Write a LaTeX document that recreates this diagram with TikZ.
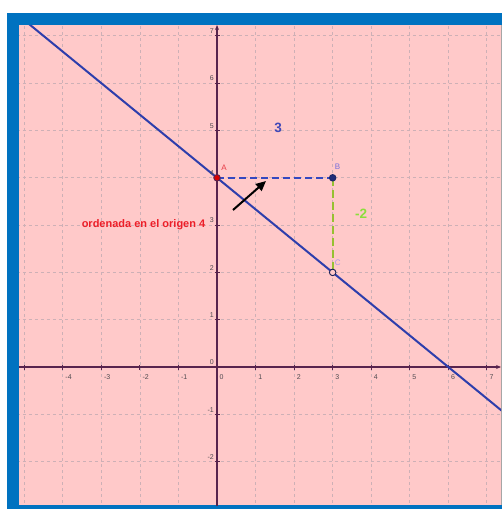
\documentclass[tikz,border=0pt]{standalone}
\usepackage{fontspec}
\setmainfont{Liberation Sans}
\usetikzlibrary{arrows.meta}
\definecolor{framecol}{RGB}{0,114,192}
\definecolor{pinkbg}{RGB}{255,201,201}
\definecolor{gridcol}{RGB}{205,176,182}
\definecolor{axiscol}{RGB}{88,36,78}
\definecolor{linecol}{RGB}{46,62,172}
\definecolor{abcol}{RGB}{52,72,192}
\definecolor{bccol}{RGB}{150,192,50}
\definecolor{mgreen}{RGB}{140,222,60}
\definecolor{mblue}{RGB}{64,72,184}
\definecolor{labB}{RGB}{120,110,220}
\definecolor{labC}{RGB}{170,150,232}
\definecolor{labA}{RGB}{230,60,70}
\definecolor{ticklab}{RGB}{80,75,80}
\definecolor{redtxt}{RGB}{236,30,40}
\tikzset{
  gridline/.style={gridcol, line width=0.8bp, dash pattern=on 3bp off 3bp},
  axisline/.style={axiscol, line width=1.6bp},
  tickmark/.style={axiscol, line width=0.9bp},
  ticklabel/.style={ticklab, font=\fontsize{7bp}{8bp}\selectfont, inner sep=0pt},
  pt/.style={circle, inner sep=0pt, minimum size=6.5bp, line width=0.9bp},
  ptlabel/.style={font=\fontsize{8bp}{9bp}\selectfont, inner sep=0pt},
  biglabel/.style={font=\fontsize{13.5bp}{14bp}\selectfont\bfseries, inner sep=0pt},
}
\begin{document}
\begin{tikzpicture}[x=1bp,y=-1bp]
\useasboundingbox (0,0) rectangle (502,509);
\fill[white] (0,0) rectangle (502,509);
\fill[framecol] (7,13) rectangle (502,509);
\fill[pinkbg] (19,25) rectangle (501,505);
\draw[gray!70, line width=0.6bp] (501,25) -- (501,505);
\begin{scope}[shift={(217,367)}, x=38.55bp, y=47.3bp]
  \begin{scope}
    \clip (-5.136,-2.918) rectangle (7.367,7.23);
    % grid
    \foreach \k in {-5,...,7} \draw[gridline] (\k,-3) -- (\k,7.5);
    \foreach \k in {-2,...,7} \draw[gridline] (-5.5,\k) -- (7.5,\k);
    % axes
    \coordinate (xs) at (-5.2,0);
    \coordinate (xe) at (7.367,0);
    \coordinate (ys) at (0,-3);
    \coordinate (ye) at (0,7.23);
    \draw[axisline, -{Stealth[length=5bp,width=4bp]}] (xs) -- (xe);
    \draw[axisline, -{Stealth[length=5bp,width=4bp]}] (ys) -- (ye);
    \foreach \k in {-5,...,7} \draw[tickmark] (\k,0) ++(0,-2.5bp) -- ++(0,5bp);
    \foreach \k in {-2,...,7} \draw[tickmark] (0,\k) ++(-2.5bp,0) -- ++(5bp,0);
    % line y = -2/3 x + 4
    \coordinate (L1) at (-4.9,7.2667);
    \coordinate (L2) at (7.5,-1);
    \draw[linecol, line width=2bp] (L1) -- (L2);
  \end{scope}
  % tick labels
  \foreach \k in {-4,-3,-2,-1,0,1,2,3,4,5,6,7}
    \node[ticklabel, anchor=north west] (xl\k) at ([xshift=2.5bp,yshift=-7bp]\k,0) {\k};
  \foreach \k in {-2,-1,0,1,2,3,4,5,6,7}
    \node[ticklabel, anchor=south east] (yl\k) at ([xshift=-3bp,yshift=2bp]0,\k) {\k};
  % points
  \node[pt] (A) at (0,4) {};
  \node[pt] (B) at (3,4) {};
  \node[pt] (C) at (3,2) {};
  \draw[abcol, line width=1.9bp, dash pattern=on 7bp off 4bp] (A.center) -- (B.center);
  \draw[bccol, line width=2bp, dash pattern=on 8bp off 4bp] (B.center) -- (C.center);
  \node[pt, fill=red!85!black, draw=axiscol] at (A) {};
  \node[pt, fill=linecol!70!black, draw=linecol!60!black] at (B) {};
  \node[pt, fill=pinkbg, draw=linecol!50!black] at (C) {};
  \node[ptlabel, labA] (Alab) at ([xshift=7bp,yshift=10bp]A) {A};
  \node[ptlabel, labB] (Blab) at ([xshift=5bp,yshift=11bp]B) {B};
  \node[ptlabel, labC] (Clab) at ([xshift=5bp,yshift=10bp]C) {C};
\end{scope}
% labels in picture coordinates
\node[biglabel, mblue] (three) at (278,128) {3};
\node[biglabel, mgreen] (minustwo) at (361,214) {-2};
\node[redtxt, font=\fontsize{11bp}{12bp}\selectfont\bfseries, inner sep=0pt] (ord) at (143.5,225) {ordenada en el origen 4};
% black arrow
\coordinate (arrT) at (233,210);
\coordinate (arrH) at (266,181);
\draw[black, line width=2bp, -{Triangle[length=10bp,width=9bp]}] (arrT) -- (arrH);
\end{tikzpicture}
\end{document}
